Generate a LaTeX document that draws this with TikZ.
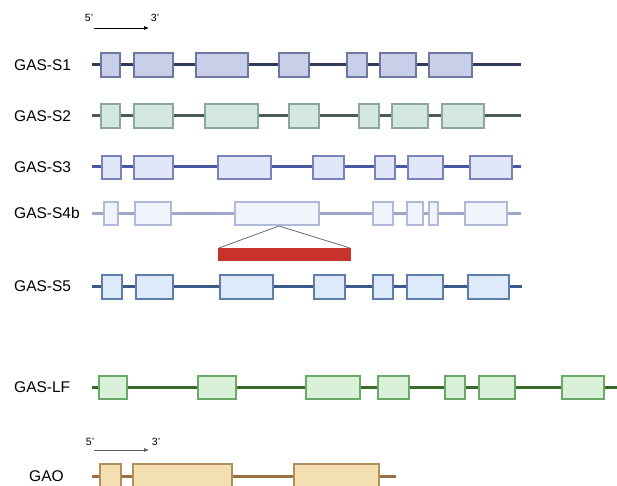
\documentclass[tikz,border=0pt]{standalone}
\usepackage{fontspec}
\setmainfont{Liberation Sans}
\usetikzlibrary{arrows.meta}
\definecolor{sOneFill}{HTML}{C9CEE9}\definecolor{sOneDraw}{HTML}{6E779F}\definecolor{sOneLine}{HTML}{2F3B5E}
\definecolor{sTwoFill}{HTML}{D5E7E1}\definecolor{sTwoDraw}{HTML}{8CA79D}\definecolor{sTwoLine}{HTML}{4C5A5A}
\definecolor{sThreeFill}{HTML}{E1E7F9}\definecolor{sThreeDraw}{HTML}{7A83B9}\definecolor{sThreeLine}{HTML}{4A56A0}
\definecolor{sFourFill}{HTML}{F1F4FC}\definecolor{sFourDraw}{HTML}{B0B9D9}\definecolor{sFourLine}{HTML}{9EA7CA}
\definecolor{sFiveFill}{HTML}{DCEAF9}\definecolor{sFiveDraw}{HTML}{5D7EA9}\definecolor{sFiveLine}{HTML}{3A5A88}
\definecolor{lfFill}{HTML}{D9F1D9}\definecolor{lfDraw}{HTML}{6AA86A}\definecolor{lfLine}{HTML}{3B6B2B}
\definecolor{gaoFill}{HTML}{F3DFB1}\definecolor{gaoDraw}{HTML}{B08F5A}\definecolor{gaoLine}{HTML}{9A7040}
\definecolor{redbar}{HTML}{C8322A}
\tikzset{
  lbl/.style={anchor=west,font=\fontsize{15.5}{18}\selectfont,inner sep=0pt},
  prime/.style={font=\fontsize{10.5}{12}\selectfont,inner sep=0pt},
  gene/.style={line width=3pt},
  exon/.style={line width=1.2pt},
}
\begin{document}
\begin{tikzpicture}[x=1pt,y=-1pt]
\useasboundingbox[fill=white] (0,0) rectangle (617,486);
% top arrow
\node[prime] (p5a) at (89,18) {5'};
\node[prime] (p3a) at (155,18) {3'};
\coordinate (a1s) at (94,28); \coordinate (a1e) at (149,28);
\draw[-{Latex[length=5pt,width=4pt]},line width=0.7pt] (a1s) -- (a1e);
% GAS-S1
\node[lbl] (l1) at (14,65) {GAS-S1};
\coordinate (g1s) at (92,65); \coordinate (g1e) at (521,65);
\draw[gene,sOneLine] (g1s) -- (g1e);
\foreach \a/\b in {101/120,134/173,196/248,279/309,347/367,380/416,429/472}
  \draw[exon,draw=sOneDraw,fill=sOneFill] (\a,53) rectangle (\b,77);
% GAS-S2
\node[lbl] (l2) at (14,116) {GAS-S2};
\coordinate (g2s) at (92,116); \coordinate (g2e) at (521,116);
\draw[gene,sTwoLine] (g2s) -- (g2e);
\foreach \a/\b in {101/120,134/173,205/258,289/319,359/379,392/428,442/484}
  \draw[exon,draw=sTwoDraw,fill=sTwoFill] (\a,104) rectangle (\b,128);
% GAS-S3
\node[lbl] (l3) at (14,167) {GAS-S3};
\coordinate (g3s) at (92,167); \coordinate (g3e) at (521,167);
\draw[gene,sThreeLine] (g3s) -- (g3e);
\foreach \a/\b in {102/121,134/173,218/271,313/344,375/395,408/443,470/512}
  \draw[exon,draw=sThreeDraw,fill=sThreeFill] (\a,156) rectangle (\b,179);
% GAS-S4b
\node[lbl] (l4) at (14,213) {GAS-S4b};
\coordinate (g4s) at (92,213); \coordinate (g4e) at (521,213);
\draw[gene,sFourLine] (g4s) -- (g4e);
\foreach \a/\b in {104/118,135/171,235/319,373/393,407/423,429/438,465/507}
  \draw[exon,draw=sFourDraw,fill=sFourFill] (\a,202) rectangle (\b,225);
% zoom triangle and red bar
\coordinate (tip) at (279,226);
\coordinate (rl) at (219,248); \coordinate (rr) at (350,248);
\draw[line width=0.8pt,gray!85!black] (rl) -- (tip) -- (rr);
\fill[redbar] (218,248) rectangle (351,261);
% GAS-S5
\node[lbl] (l5) at (14,286) {GAS-S5};
\coordinate (g5s) at (92,286); \coordinate (g5e) at (522,286);
\draw[gene,sFiveLine] (g5s) -- (g5e);
\foreach \a/\b in {102/122,136/173,220/273,314/345,373/393,407/443,468/509}
  \draw[exon,draw=sFiveDraw,fill=sFiveFill] (\a,275) rectangle (\b,299);
% GAS-LF
\node[lbl] (l6) at (14,387) {GAS-LF};
\coordinate (g6s) at (92,387); \coordinate (g6e) at (617,387);
\draw[gene,lfLine] (g6s) -- (g6e);
\foreach \a/\b in {99/127,198/236,306/360,378/409,445/465,479/515,562/604}
  \draw[exon,draw=lfDraw,fill=lfFill] (\a,376) rectangle (\b,399);
% bottom arrow
\node[prime] (p5b) at (90,442) {5'};
\node[prime] (p3b) at (156,442) {3'};
\coordinate (a2s) at (94,450); \coordinate (a2e) at (149,450);
\draw[-{Latex[length=5pt,width=4pt]},line width=0.7pt,gray!70!black] (a2s) -- (a2e);
% GAO
\node[lbl] (l7) at (29,476) {GAO};
\coordinate (g7s) at (92,476); \coordinate (g7e) at (396,476);
\draw[gene,gaoLine] (g7s) -- (g7e);
\begin{scope}
\clip (0,0) rectangle (617,486);
\foreach \a/\b in {100/121,133/232,294/379}
  \draw[exon,draw=gaoDraw,fill=gaoFill] (\a,464) rectangle (\b,492);
\end{scope}
\end{tikzpicture}
\end{document}
